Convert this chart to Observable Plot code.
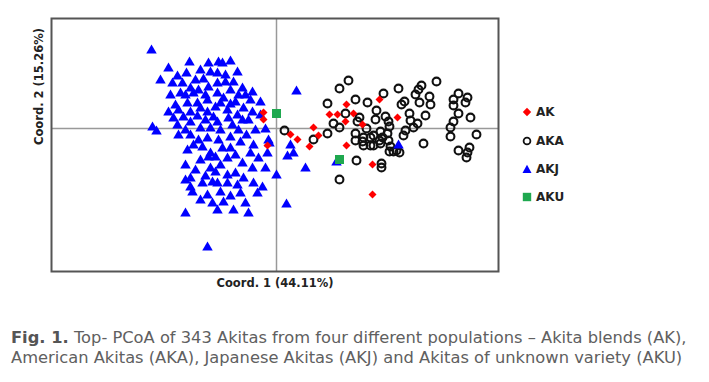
<!DOCTYPE html>
<html>
<head>
<meta charset="utf-8">
<script src="https://cdn.jsdelivr.net/npm/d3@7"></script>
<script src="https://cdn.jsdelivr.net/npm/@observablehq/plot@0.6"></script>
<style>
  html, body { margin: 0; padding: 0; background: #fff; }
  #wrap { position: relative; width: 709px; height: 382px; overflow: hidden; }
  #chart { position: absolute; left: 0; top: 0; }
  #legend { position: absolute; left: 522px; top: 0; font: bold 12px "DejaVu Sans", sans-serif; color: #222; }
  .item { position: absolute; left: 0; display: flex; align-items: center; white-space: nowrap; height: 14px; }
  .item svg { margin-right: 4px; }
  #caption { position: absolute; left: 11px; top: 328px; font: 16.3px/20px "DejaVu Sans", sans-serif; color: #606060; white-space: nowrap; }
  #caption b { color: #555; }
</style>
</head>
<body>
<div id="wrap">
  <div id="chart"></div>
  <div id="legend"></div>
  <div id="caption"></div>
</div>
<script>
// Group names (legend order)
const groups = ["AK", "AKA", "AKJ", "AKU"];
const axisLabels = ["Coord. 1 (44.11%)", "Coord. 2 (15.26%)"];
const captionBold = "Fig. 1.";
const captionLines = [
  " Top- PCoA of 343 Akitas from four different populations \u2013 Akita blends (AK),",
  "American Akitas (AKA), Japanese Akitas (AKJ) and Akitas of unknown variety (AKU)"
];

// Akita blends (AK) [coord1, coord2]
const AK = [
  [-0.13, 0.16], [-0.13, 0.09], [-0.09, -0.17], [0.70, 0.24], [0.53, 0.14], [0.61, 0.14],
  [0.77, 0.15], [0.69, 0.07], [0.86, 0.04], [0.37, 0.01], [0.14, -0.06], [0.21, -0.11],
  [0.42, -0.07], [0.33, -0.18], [0.70, -0.17], [0.96, -0.36], [0.96, -0.66], [1.03, 0.29],
  [1.21, 0.11]
];

// American Akitas (AKA)
const AKA = [
  [0.72, 0.48], [0.63, 0.40], [0.51, 0.25], [0.79, 0.29], [0.91, 0.26], [1.07, 0.35],
  [1.00, 0.18], [1.25, 0.24], [0.69, 0.15], [0.83, 0.11], [0.81, 0.07], [0.57, 0.05],
  [0.63, 0.01], [0.51, -0.05], [0.08, -0.02], [0.37, -0.11], [0.99, 0.09], [1.09, 0.12],
  [1.12, 0.07], [1.13, 0.02], [0.79, -0.05], [0.87, -0.09], [0.94, -0.09], [1.04, -0.03],
  [1.11, -0.05], [0.79, -0.12], [0.86, -0.13], [0.94, -0.17], [1.03, -0.12], [1.14, -0.18],
  [1.20, -0.22], [1.13, -0.23], [0.80, -0.32], [1.05, -0.35], [1.05, -0.39], [0.63, -0.51],
  [1.60, 0.47], [1.45, 0.43], [1.42, 0.39], [1.22, 0.40], [1.39, 0.34], [1.53, 0.32],
  [1.43, 0.26], [1.54, 0.24], [1.28, 0.27], [1.82, 0.35], [1.91, 0.31], [1.77, 0.29],
  [1.89, 0.26], [1.77, 0.23], [1.82, 0.15], [1.94, 0.11], [1.77, 0.07], [1.74, 0.01],
  [1.74, -0.08], [2.00, -0.06], [1.47, -0.15], [1.82, -0.22], [1.93, -0.19], [1.91, -0.24],
  [1.90, -0.29], [1.49, 0.13], [1.33, 0.15], [1.34, 0.08], [1.41, 0.05], [1.37, 0.01],
  [1.29, -0.02], [1.27, -0.07], [0.97, -0.07], [1.06, -0.09], [1.12, -0.12], [1.04, -0.15],
  [0.97, -0.17], [1.17, -0.23], [1.23, -0.24], [0.90, 0.00], [0.87, -0.17]
];

// Japanese Akitas (AKJ)
const AKJ = [
  [-1.25, 0.78], [-0.87, 0.66], [-0.68, 0.65], [-0.58, 0.66], [-0.46, 0.67], [-1.08, 0.60],
  [-0.99, 0.52], [-0.90, 0.55], [-1.16, 0.48], [-1.04, 0.45], [-0.94, 0.45], [-0.86, 0.40],
  [-0.73, 0.49], [-0.66, 0.56], [-0.68, 0.41], [-0.96, 0.35], [-0.83, 0.35], [-0.78, 0.38],
  [-0.89, 0.25], [-0.79, 0.25], [-0.69, 0.28], [-0.98, 0.18], [-0.86, 0.16], [-0.69, 0.16],
  [-0.63, 0.11], [-0.54, 0.65], [-0.39, 0.56], [-0.59, 0.55], [-0.51, 0.53], [-0.43, 0.46],
  [-0.34, 0.40], [-0.59, 0.45], [-0.51, 0.46], [-0.46, 0.38], [-0.38, 0.33], [-0.41, 0.26],
  [-0.59, 0.35], [-0.53, 0.30], [-0.16, 0.26], [-0.24, 0.16], [-0.33, 0.20], [-0.16, 0.13],
  [-0.61, 0.21], [-0.49, 0.18], [-0.39, 0.13], [-0.21, -0.02], [-0.11, -0.01], [-1.24, 0.01],
  [-1.20, -0.03], [-0.99, 0.03], [-0.98, -0.07], [-0.86, 0.06], [-0.86, -0.07], [-0.76, 0.00],
  [-0.74, -0.19], [-0.66, 0.00], [-0.83, -0.17], [-0.89, -0.22], [-0.68, -0.29], [-0.91, -0.37],
  [-0.81, -0.42], [-0.66, -0.40], [-0.86, -0.50], [-0.74, -0.55], [-0.86, -0.59], [-0.64, -0.54],
  [-0.93, 0.11], [-1.03, 0.10], [-0.59, 0.06], [-0.48, 0.10], [-0.34, 0.08], [-0.08, -0.12],
  [-0.09, -0.25], [-0.36, -0.14], [-0.46, -0.09], [-0.23, -0.17], [-0.26, -0.25], [-0.46, -0.20],
  [-0.58, -0.12], [-0.61, -0.29], [-0.49, -0.30], [-0.34, -0.35], [-0.24, -0.40], [-0.11, -0.40],
  [0.00, -0.47], [-0.61, -0.44], [-0.49, -0.47], [-0.41, -0.45], [-0.33, -0.50], [-0.59, -0.55],
  [-0.49, -0.55], [-0.39, -0.57], [-0.23, -0.55], [-0.19, -0.65], [-0.84, -0.64], [-0.69, -0.67],
  [-0.56, -0.64], [-0.53, -0.74], [-0.31, -0.75], [-0.91, -0.85], [-0.59, -0.82], [-0.43, -0.82],
  [-0.28, -0.85], [-0.69, -1.19], [0.10, -0.76], [0.20, 0.37], [-0.07, -0.15], [0.14, -0.17],
  [0.11, -0.28], [0.17, -0.25], [0.29, -0.40], [0.60, -0.34], [1.22, -0.17], [-0.91, -0.52],
  [-0.66, -0.25], [-0.91, 0.33], [-0.71, 0.33], [-0.31, 0.33], [-0.26, 0.28], [-0.76, 0.20],
  [-0.56, 0.25], [-0.46, 0.24], [-0.79, 0.12], [-0.71, 0.08], [-0.44, 0.03], [-0.28, 0.08],
  [-0.91, -0.02], [-0.56, -0.02], [-0.38, -0.02], [-0.30, -0.07], [-0.78, -0.12], [-0.69, -0.10],
  [-0.54, -0.20], [-0.41, -0.27], [-0.18, -0.30], [-0.76, -0.32], [-0.56, -0.37], [-0.71, -0.48],
  [-0.36, -0.65], [-0.46, -0.68], [-0.76, -0.72], [-0.64, -0.75], [-0.14, -0.59], [-1.06, 0.33],
  [-1.01, 0.23], [-1.08, 0.16], [-0.24, 0.36], [-0.81, 0.48], [-0.76, 0.58]
];

// Akitas of unknown variety (AKU)
const AKU = [[0.00, 0.15], [0.63, -0.31]];

const xDomain = [-2.25, 2.22];
const yDomain = [-1.43, 1.10];

const colors = { AK: "#ff0000", AKA: "#111111", AKJ: "#0000ff", AKU: "#1fa84f" };

const plot = Plot.plot({
  width: 709,
  height: 300,
  marginLeft: 51,
  marginRight: 211,
  marginTop: 18,
  marginBottom: 29,
  x: { domain: xDomain, axis: null },
  y: { domain: yDomain, axis: null },
  style: { background: "transparent" },
  marks: [
    Plot.ruleX([0], { stroke: "#999", strokeWidth: 1.5 }),
    Plot.ruleY([0], { stroke: "#999", strokeWidth: 1.5 }),
    Plot.dot(AKA, { x: d => d[0], y: d => d[1], symbol: "circle", r: 3.9, fill: "none", stroke: colors.AKA, strokeWidth: 2.1 }),
    Plot.dot(AKJ, { x: d => d[0], y: d => d[1], symbol: "triangle", r: 3.9, fill: colors.AKJ, stroke: "none" }),
    Plot.dot(AK, { x: d => d[0], y: d => d[1], symbol: "diamond2", r: 3.6, fill: colors.AK, stroke: "none" }),
    Plot.dot(AKU, { x: d => d[0], y: d => d[1], symbol: "square", r: 5.1, fill: colors.AKU, stroke: "none" }),
    Plot.frame({ stroke: "#555", strokeWidth: 2 }),
    Plot.text([axisLabels[0]], { frameAnchor: "bottom", dy: 15, text: d => d, fontWeight: "bold", fontSize: 11.5, fontFamily: "DejaVu Sans", fill: "#222" }),
    Plot.text([axisLabels[1]], { frameAnchor: "left", dx: -12, rotate: -90, text: d => d, fontWeight: "bold", fontSize: 11.5, fontFamily: "DejaVu Sans", fill: "#222" })
  ]
});
document.getElementById("chart").appendChild(plot);

// Legend
const legendTops = [105, 134, 162, 190];
const markerSvg = {
  AK: `<svg width="10" height="10"><path d="M5 0.8 L9.2 5 L5 9.2 L0.8 5 Z" fill="${colors.AK}"/></svg>`,
  AKA: `<svg width="10" height="10"><circle cx="5" cy="5" r="3.4" fill="none" stroke="${colors.AKA}" stroke-width="1.8"/></svg>`,
  AKJ: `<svg width="10" height="10"><path d="M5 0.8 L9.5 9 L0.5 9 Z" fill="${colors.AKJ}"/></svg>`,
  AKU: `<svg width="10" height="10"><rect x="0.8" y="0.8" width="8.4" height="8.4" fill="${colors.AKU}"/></svg>`
};
const legend = document.getElementById("legend");
groups.forEach((g, i) => {
  const div = document.createElement("div");
  div.className = "item";
  div.style.top = legendTops[i] + "px";
  div.innerHTML = markerSvg[g] + `<span>${g}</span>`;
  legend.appendChild(div);
});

// Caption
document.getElementById("caption").innerHTML =
  `<b>${captionBold}</b>${captionLines[0]}<br>${captionLines[1]}`;
</script>
</body>
</html>
